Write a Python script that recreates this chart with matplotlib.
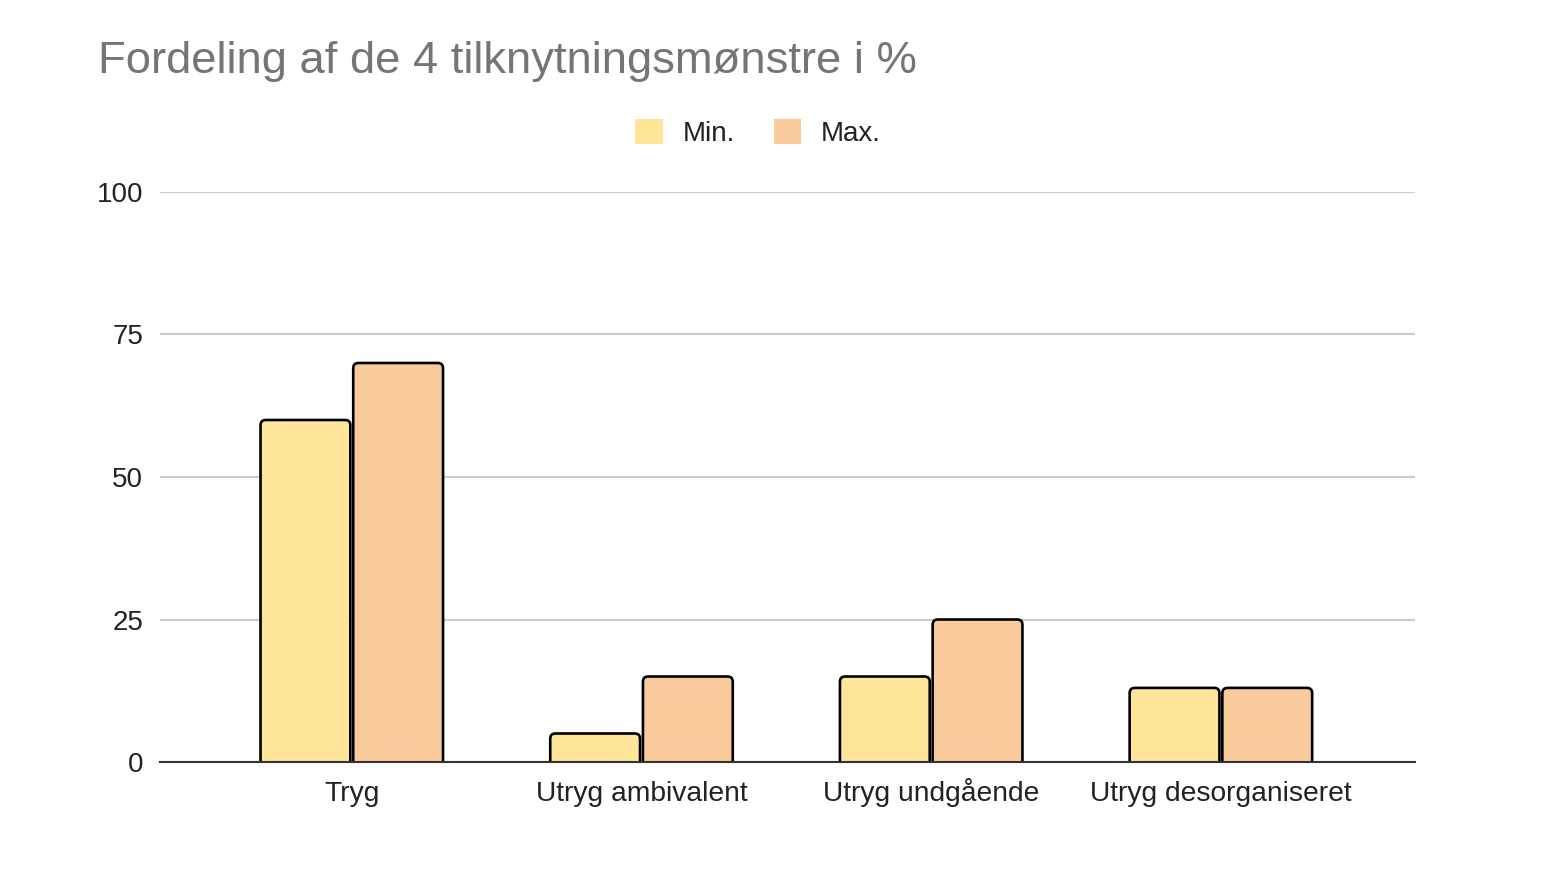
import numpy as np
import matplotlib
matplotlib.use("Agg")
import matplotlib.pyplot as plt
from matplotlib.patches import FancyBboxPatch, Patch

# Data
categories = ["Tryg", "Utryg ambivalent", "Utryg undgående", "Utryg desorganiseret"]
min_values = [60, 5, 15, 13]
max_values = [70, 15, 25, 13]
series_names = ["Min.", "Max."]
yticks = [0, 25, 50, 75, 100]

min_color = "#ffe599"
max_color = "#f9cb9c"

plt.rcParams["font.family"] = ["Liberation Sans", "DejaVu Sans"]

fig = plt.figure(figsize=(15.48, 8.82), dpi=100)
ax = fig.add_axes([160 / 1548, 1 - 762 / 882, 1255 / 1548, 570 / 882])

x = np.arange(len(categories))
width = 0.31
offset = 0.16

bars_min = ax.bar(x - offset, min_values, width, color=min_color)
bars_max = ax.bar(x + offset, max_values, width, color=max_color)

ax.set_xlim(-0.662, 3.67)
ax.set_ylim(0, 100)

# swap the plain rectangles for ones with rounded top corners
for bars, col in [(bars_min, min_color), (bars_max, max_color)]:
    for r in bars:
        r.set_visible(False)
        bx, by, bw, bh = r.get_x(), r.get_y(), r.get_width(), r.get_height()
        fb = FancyBboxPatch((bx, by - 2), bw, bh + 2,
                            boxstyle="round,pad=0,rounding_size=0.018",
                            mutation_aspect=51,
                            facecolor=col, edgecolor="black", linewidth=1.9,
                            zorder=3)
        ax.add_patch(fb)

ax.set_yticks(yticks)
ax.set_yticklabels([str(t) for t in yticks], fontsize=20, color="#222222")
ax.set_xticks(x)
ax.set_xticklabels(categories, fontsize=20.3, color="#222222", va="baseline")
ax.tick_params(axis="both", length=0)
ax.tick_params(axis="y", pad=12)
ax.tick_params(axis="x", pad=28)

ax.grid(axis="y", color="#cccccc", linewidth=1.5)
ax.set_axisbelow(True)
for side in ["top", "right", "left"]:
    ax.spines[side].set_visible(False)
ax.spines["bottom"].set_color("#333333")
ax.spines["bottom"].set_linewidth(1.5)
ax.spines["bottom"].set_zorder(4)

fig.text(98 / 1548, 1 - 73 / 882, "Fordeling af de 4 tilknytningsmønstre i %",
         fontsize=32.7, color="#757575", va="baseline", ha="left")

handles = [Patch(facecolor=min_color, edgecolor="none"),
           Patch(facecolor=max_color, edgecolor="none")]
fig.legend(handles, series_names, loc="center", bbox_to_anchor=(758 / 1548, 1 - 133 / 882),
           ncol=2, frameon=False, fontsize=20, handlelength=1.0, handleheight=1.0,
           handletextpad=0.7, columnspacing=1.4, labelcolor="#222222")

fig.savefig("out.png", dpi=100)
